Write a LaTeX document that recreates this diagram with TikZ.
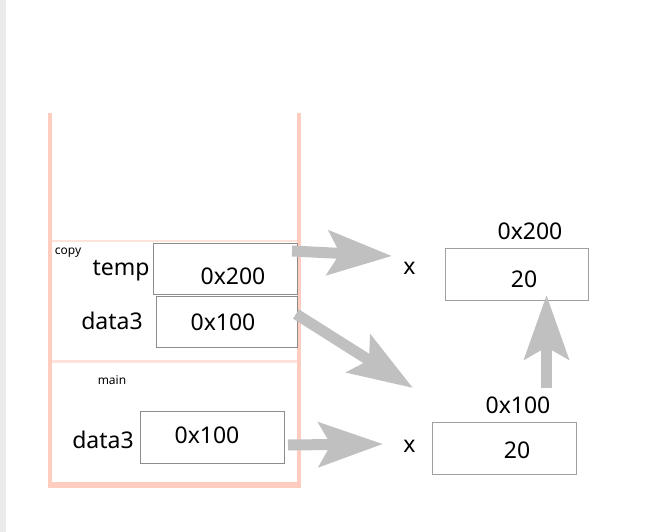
\documentclass[tikz,border=0pt]{standalone}
\usepackage{fontspec}
\setmainfont{Noto Sans}
\usetikzlibrary{arrows.meta}
\definecolor{stackc}{HTML}{FFCCC0}
\definecolor{divc}{HTML}{FFE2DA}
\definecolor{arrc}{HTML}{C0C0C0}
\definecolor{boxc}{HTML}{8C8C8C}
\definecolor{boxr}{HTML}{A0A0A0}
\definecolor{stripc}{HTML}{EBEBEB}
\tikzset{
  membox/.style={draw=boxc, line width=1pt, fill=white, inner sep=0pt},
  heapbox/.style={draw=boxr, line width=1pt, fill=white, inner sep=0pt},
  big/.style={font=\fontsize{23}{26}\selectfont, inner sep=0pt, anchor=base},
  small/.style={font=\fontsize{12}{14}\selectfont, inner sep=0pt, anchor=base},
  bigarrow/.style={draw=arrc, line width=11pt, -{Stealth[length=64pt,width=44pt,inset=12pt]}},
}
\begin{document}
\begin{tikzpicture}[x=1pt,y=-1pt]
\useasboundingbox (0,0) rectangle (663,532);
\fill[stripc] (0,0) rectangle (6,532);
% stack frame
\draw[stackc, line width=4pt] (49.5,113) -- (49.5,483);
\draw[stackc, line width=4pt] (298.5,113) -- (298.5,483);
\draw[stackc, line width=6.5pt] (47.5,485) -- (300.5,485);
\draw[divc, line width=2pt] (51.5,241) -- (296.5,241);
\draw[divc, line width=3pt] (51.5,361.5) -- (296.5,361.5);
% frame labels
\node[small] (lcopy) at (68,254) {copy};
\node[small] (lmain) at (112,384) {main};
% copy frame
\path[membox] (153,243) rectangle (297,294);
\coordinate (tempbox) at (225,268.5);
\node[big] (tempval) at (233,284) {0x200};
\node[big] (templ) at (121,275) {temp};
\path[membox] (156,296) rectangle (297,347);
\node[big] (d3val) at (223,330) {0x100};
\node[big] (d3l) at (112,329) {data3};
% main frame
\path[membox] (140,411) rectangle (284,463);
\node[big] (md3val) at (207,443) {0x100};
\node[big] (md3l) at (103,448) {data3};
% heap objects
\path[heapbox] (445,248) rectangle (588,300);
\node[big] (h2val) at (524,287) {20};
\node[big] (h2addr) at (530,239) {0x200};
\node[big] (x1) at (409.5,274) {x};
\path[heapbox] (432,422) rectangle (576,474);
\node[big] (h1val) at (517,458) {20};
\node[big] (h1addr) at (518,413) {0x100};
\node[big] (x2) at (409.5,452) {x};
% arrow anchors
\coordinate (a1s) at (292,251);
\coordinate (a1e) at (392,256);
\coordinate (a2s) at (296,314);
\coordinate (a2e) at (413,388);
\coordinate (a3s) at (288,445);
\coordinate (a3e) at (383,444);
\coordinate (a4s) at (546.5,388);
\coordinate (a4e) at (546.5,295);
\draw[bigarrow] (a1s) -- (a1e);
\draw[bigarrow] (a2s) -- (a2e);
\draw[bigarrow] (a3s) -- (a3e);
\draw[bigarrow] (a4s) -- (a4e);
\end{tikzpicture}
\end{document}
